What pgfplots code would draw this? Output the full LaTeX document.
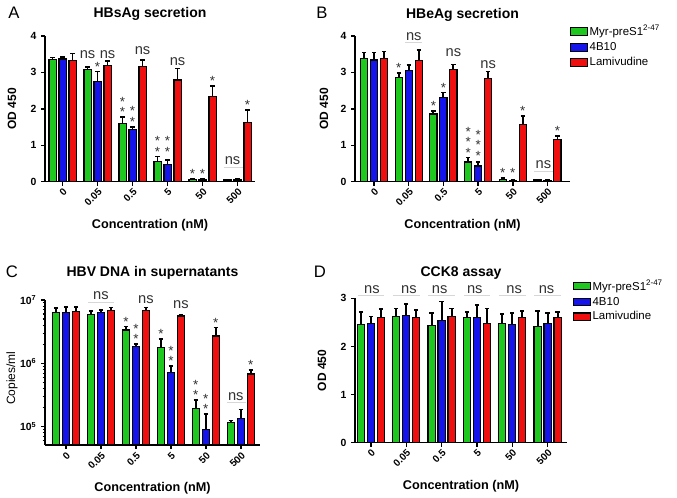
\documentclass[border=0pt]{standalone}
\usepackage{fontspec}
\setmainfont{Liberation Sans}
\usepackage{pgfplots}
\pgfplotsset{compat=1.18}
\usepackage{pgfplotstable}

\definecolor{cg}{RGB}{30,200,30}
\definecolor{cb}{RGB}{20,20,235}
\definecolor{cr}{RGB}{240,15,15}
\definecolor{nsline}{RGB}{215,215,215}
\definecolor{anno}{RGB}{50,50,50}

% HBsAg secretion
\pgfplotstableread{
x g ge b be r re
0 3.36 0.05 3.37 0.06 3.32 0.20
1 3.08 0.07 2.75 0.27 3.18 0.14
2 1.60 0.18 1.44 0.07 3.16 0.18
3 0.55 0.14 0.48 0.12 2.79 0.32
4 0.06 0.03 0.05 0.02 2.33 0.30
5 0.05 0.01 0.05 0.02 1.62 0.35
}\tabA
% HBeAg secretion
\pgfplotstableread{
x g ge b be r re
0 3.39 0.16 3.34 0.21 3.39 0.18
1 2.87 0.12 3.05 0.16 3.32 0.30
2 1.86 0.08 2.32 0.13 3.09 0.13
3 0.54 0.12 0.43 0.11 2.84 0.18
4 0.07 0.03 0.04 0.01 1.58 0.23
5 0.05 0.01 0.04 0.01 1.16 0.09
}\tabB
% HBV DNA in supernatants
\pgfplotstableread{
x g ge b be r re
0 6.4e6 1.0e6 6.3e6 1.5e6 6.6e6 1.2e6
1 5.9e6 0.8e6 6.4e6 0.5e6 6.9e6 0.7e6
2 3.36e6 0.44e6 1.83e6 0.17e6 6.9e6 0.7e6
3 1.77e6 0.63e6 7.1e5 2.0e5 5.6e6 0.3e6
4 1.95e5 0.65e5 8.9e4 6.9e4 2.7e6 1.0e6
5 1.16e5 0.08e5 1.35e5 0.52e5 6.76e5 1.09e5
}\tabC
% CCK8 assay
\pgfplotstableread{
x g ge b be r re
0 2.45 0.26 2.47 0.15 2.60 0.18
1 2.62 0.17 2.64 0.24 2.60 0.16
2 2.43 0.26 2.54 0.39 2.62 0.17
3 2.60 0.12 2.60 0.26 2.47 0.32
4 2.48 0.19 2.45 0.25 2.60 0.13
5 2.41 0.32 2.48 0.22 2.60 0.12
}\tabD

\pgfplotsset{
  panel/.style={
    scale only axis, anchor=south west,
    ybar, clip=false,
    axis x line*=bottom, axis y line*=left,
    axis line style={-, line width=1.1pt},
    xtick={0,...,5},
    xticklabels={0,0.05,0.5,5,50,500},
    xticklabel style={rotate=45, anchor=north east, font=\bfseries\fontsize{7.5}{9}\selectfont, inner sep=1pt},
    yticklabel style={font=\bfseries\fontsize{7.8}{9}\selectfont},
    tick align=outside, major tick length=3pt, minor tick length=1.8pt,
    tick style={black, line width=1.1pt},
    minor tick style={black, line width=0.8pt},
    /pgf/number format/assume math mode=true,
    xlabel={Concentration (nM)},
    xlabel style={font=\bfseries\fontsize{9.5}{11}\selectfont, at={(axis description cs:0.5,0)}, anchor=center, yshift=-32.5pt},
    title style={font=\bfseries\fontsize{10.5}{12}\selectfont, anchor=center},
    ylabel style={font=\bfseries\fontsize{9}{11}\selectfont, anchor=center},
    bar width=5.4pt,
    legend style={draw=none, fill=none, font=\fontsize{8.6}{10}\selectfont, legend cell align=left, row sep=1.5pt, inner sep=0pt, nodes={inner sep=1pt}},
  },
  barbase/.style={draw=black, line width=0.9pt,
    error bars/y dir=plus, error bars/y explicit,
    error bars/error bar style={black, line width=1.4pt},
    error bars/error mark options={rotate=90, black, line width=1.2pt, mark size=1.6pt}},
  gbar/.style={barbase, fill=cg, bar shift=-7.5pt,
    legend image code/.code={\draw[fill=cg, draw=black, line width=0.8pt] (0pt,-2.9pt) rectangle (12.75pt,2.9pt);}},
  bbar/.style={barbase, fill=cb, bar shift=0pt,
    legend image code/.code={\draw[fill=cb, draw=black, line width=0.8pt] (0pt,-2.9pt) rectangle (12.75pt,2.9pt);}},
  rbar/.style={barbase, fill=cr, bar shift=7.5pt,
    legend image code/.code={\draw[fill=cr, draw=black, line width=0.8pt] (0pt,-2.9pt) rectangle (12.75pt,2.9pt);}},
}
\tikzset{
  ns/.style={font=\fontsize{11}{11}\selectfont, text=anno, anchor=base, inner sep=0pt},
  st/.style={font=\fontsize{10}{6}\selectfont, text=anno, anchor=south, inner sep=0pt, align=center},
  nsl/.style={draw=nsline, line width=0.8pt},
  G/.style={xshift=-7.5pt}, R/.style={xshift=7.5pt},
  plab/.style={font=\fontsize{12.5}{14}\selectfont, anchor=center, inner sep=0pt},
}

\begin{document}
\begin{tikzpicture}
\useasboundingbox (0pt,0pt) rectangle (507.75pt,373.5pt);

\node[plab] at (10.5pt,363.75pt) {A};
\node[plab] at (241.5pt,363.75pt) {B};
\node[plab] at (9pt,169.5pt) {C};
\node[plab] at (240pt,169.5pt) {D};

% ---------------- A ----------------
\begin{axis}[panel, at={(33.75pt,237.2pt)}, width=157.5pt, height=109.3pt,
  xmin=-0.5, xmax=5.5, ymin=0, ymax=4, ytick={0,1,2,3,4},
  title={HBsAg secretion}, title style={at={(axis description cs:0.5,1)}, yshift=10.5pt},
  ylabel={OD 450}, ylabel style={at={(axis description cs:-0.157,0.5)}}]
\addplot[gbar] table[x=x,y=g,y error=ge]{\tabA};
\addplot[bbar] table[x=x,y=b,y error=be]{\tabA};
\addplot[rbar] table[x=x,y=r,y error=re]{\tabA};
\node[ns,G] at (axis cs:1,3.39) {ns};
\node[st] at (axis cs:1,3.02) {*};
\node[ns,R] at (axis cs:1,3.39) {ns};
\node[st,G] at (axis cs:2,1.78) {*\\*};
\node[st] at (axis cs:2,1.51) {*\\*};
\node[ns,R] at (axis cs:2,3.48) {ns};
\node[st,G] at (axis cs:3,0.69) {*\\*};
\node[st] at (axis cs:3,0.69) {*\\*};
\node[ns,R] at (axis cs:3,3.20) {ns};
\node[st,G] at (axis cs:4,0.09) {*};
\node[st] at (axis cs:4,0.09) {*};
\node[st,R] at (axis cs:4,2.63) {*};
\node[ns,xshift=-3.75pt] at (axis cs:5,0.46) {ns};
\draw[nsl] ([xshift=-10.5pt]axis cs:5,0.38) -- ([xshift=3.75pt]axis cs:5,0.38);
\node[st,R] at (axis cs:5,1.97) {*};
\end{axis}

% ---------------- B ----------------
\begin{axis}[panel, at={(266.25pt,237.2pt)}, width=161.25pt, height=109.3pt,
  xmin=-0.55, xmax=5.65, ymin=0, ymax=4, ytick={0,1,2,3,4},
  title={HBeAg secretion}, title style={at={(axis description cs:0.5,1)}, yshift=9.75pt},
  ylabel={OD 450}, ylabel style={at={(axis description cs:-0.144,0.5)}},
  legend style={at={(axis description cs:1.0,1.085)}, anchor=north west}]
\addplot[gbar] table[x=x,y=g,y error=ge]{\tabB};
\addlegendentry{Myr-preS1\textsuperscript{2-47}}
\addplot[bbar] table[x=x,y=b,y error=be]{\tabB};
\addlegendentry{4B10}
\addplot[rbar] table[x=x,y=r,y error=re]{\tabB};
\addlegendentry{Lamivudine}
\node[st,G] at (axis cs:1,2.99) {*};
\node[ns,xshift=3.75pt] at (axis cs:1,3.89) {ns};
\draw[nsl] ([xshift=-2.5pt]axis cs:1,3.81) -- ([xshift=10pt]axis cs:1,3.81);
\node[st,G] at (axis cs:2,1.94) {*};
\node[st] at (axis cs:2,2.45) {*};
\node[ns,R] at (axis cs:2,3.43) {ns};
\node[st,G] at (axis cs:3,0.66) {*\\*\\*};
\node[st] at (axis cs:3,0.58) {*\\*\\*};
\node[ns,R] at (axis cs:3,3.12) {ns};
\node[st,G] at (axis cs:4,0.10) {*};
\node[st] at (axis cs:4,0.10) {*};
\node[st,R] at (axis cs:4,1.81) {*};
\node[ns,xshift=-3pt] at (axis cs:5,0.37) {ns};
\draw[nsl] ([xshift=-10pt]axis cs:5,0.28) -- ([xshift=4pt]axis cs:5,0.28);
\node[st,R] at (axis cs:5,1.25) {*};
\end{axis}

% ---------------- C ----------------
\begin{axis}[panel, at={(33.75pt,39.75pt)}, width=161.25pt, height=108.75pt,
  xmin=-0.6, xmax=5.55, ymode=log, ymin=5.1e4, ymax=1e7, log origin=infty,
  ytick={1e5,1e6,1e7},
  yticklabels={10\textsuperscript{5},10\textsuperscript{6},10\textsuperscript{7}},
  minor ytick={6e4,7e4,8e4,9e4,2e5,3e5,4e5,5e5,6e5,7e5,8e5,9e5,2e6,3e6,4e6,5e6,6e6,7e6,8e6,9e6},
  title={HBV DNA in supernatants}, title style={at={(axis description cs:0.5,1)}, yshift=14.25pt},
  ylabel={Copies/ml}, ylabel style={at={(axis description cs:-0.153,0.46)}, font=\fontsize{9}{11}\selectfont}]
\addplot[gbar] table[x=x,y=g,y error=ge]{\tabC};
\addplot[bbar] table[x=x,y=b,y error=be]{\tabC};
\addplot[rbar] table[x=x,y=r,y error=re]{\tabC};
\node[ns] at (axis cs:1,1.0e7) {ns};
\draw[nsl] ([xshift=-10pt]axis cs:1,9.1e6) -- ([xshift=10pt]axis cs:1,9.1e6);
\node[st,G] at (axis cs:2,3.8e6) {*};
\node[st] at (axis cs:2,2.0e6) {*\\*};
\node[ns,R] at (axis cs:2,8.87e6) {ns};
\node[st,G] at (axis cs:3,2.4e6) {*};
\node[st] at (axis cs:3,9.1e5) {*\\*};
\node[ns,R] at (axis cs:3,7.4e6) {ns};
\node[st,G] at (axis cs:4,2.6e5) {*\\*};
\node[st] at (axis cs:4,1.58e5) {*\\*};
\node[st,R] at (axis cs:4,3.7e6) {*};
\node[ns,xshift=-3.75pt] at (axis cs:5,2.57e5) {ns};
\draw[nsl] ([xshift=-10.5pt]axis cs:5,2.37e5) -- ([xshift=3.75pt]axis cs:5,2.37e5);
\node[st,R] at (axis cs:5,7.85e5) {*};
\end{axis}

% ---------------- D ----------------
\begin{axis}[panel, at={(266.25pt,41.5pt)}, width=159pt, height=108.3pt,
  xmin=-0.45, xmax=5.55, ymin=0, ymax=3, ytick={0,1,2,3},
  title={CCK8 assay}, title style={at={(axis description cs:0.5,1)}, yshift=13pt},
  ylabel={OD 450}, ylabel style={at={(axis description cs:-0.156,0.5)}},
  legend style={at={(axis description cs:1.028,1.14)}, anchor=north west}]
\addplot[gbar] table[x=x,y=g,y error=ge]{\tabD};
\addlegendentry{Myr-preS1\textsuperscript{2-47}}
\addplot[bbar] table[x=x,y=b,y error=be]{\tabD};
\addlegendentry{4B10}
\addplot[rbar] table[x=x,y=r,y error=re]{\tabD};
\addlegendentry{Lamivudine}
\node[ns,xshift=0.75pt] at (axis cs:0,3.10) {ns};
\node[ns,xshift=2pt] at (axis cs:1,3.10) {ns};
\node[ns,xshift=-1.4pt] at (axis cs:2,3.10) {ns};
\node[ns,xshift=-1.6pt] at (axis cs:3,3.10) {ns};
\node[ns,xshift=1.4pt] at (axis cs:4,3.10) {ns};
\node[ns,xshift=-0.75pt] at (axis cs:5,3.10) {ns};
\draw[nsl] ([xshift=-10pt]axis cs:0,3.05) -- ([xshift=10pt]axis cs:0,3.05);
\draw[nsl] ([xshift=-10pt]axis cs:1,3.05) -- ([xshift=10pt]axis cs:1,3.05);
\draw[nsl] ([xshift=-10pt]axis cs:2,3.05) -- ([xshift=10pt]axis cs:2,3.05);
\draw[nsl] ([xshift=-10pt]axis cs:3,3.05) -- ([xshift=10pt]axis cs:3,3.05);
\draw[nsl] ([xshift=-10pt]axis cs:4,3.05) -- ([xshift=10pt]axis cs:4,3.05);
\draw[nsl] ([xshift=-10pt]axis cs:5,3.05) -- ([xshift=10pt]axis cs:5,3.05);
\end{axis}
\end{tikzpicture}
\end{document}
